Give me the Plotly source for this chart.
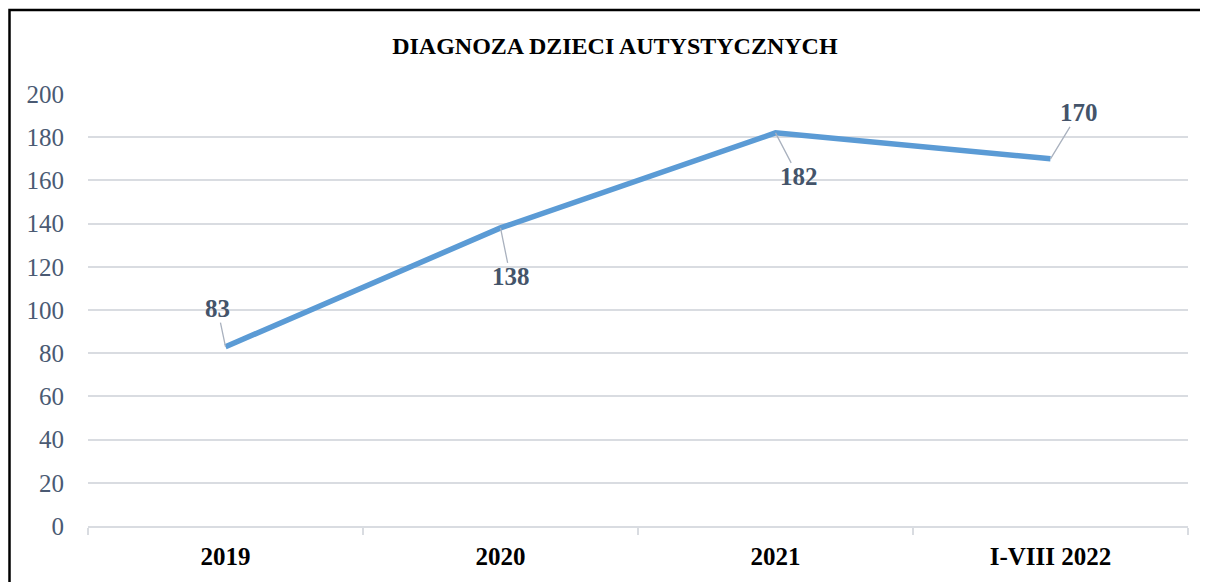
import plotly.graph_objects as go

categories = ["2019", "2020", "2021", "I-VIII 2022"]
values = [83, 138, 182, 170]
y_ticks = [0, 20, 40, 60, 80, 100, 120, 140, 160, 180, 200]
title_text = "DIAGNOZA DZIECI AUTYSTYCZNYCH"
# label offsets (pixels) for callout leader lines
label_dx = [-8, 10, 23, 28]
label_dy = [-38, 49, 44, -46]

FONT = "Liberation Serif"
SLATE = "#44546A"
GRID = "#D9DCE1"

fig = go.Figure()
fig.add_trace(go.Scatter(
    x=categories, y=values, mode="lines",
    line=dict(color="#5B9BD5", width=5.5),
    hoverinfo="skip", showlegend=False,
))

for i, (v, dx, dy) in enumerate(zip(values, label_dx, label_dy)):
    fig.add_annotation(
        x=i, y=v, text=f"<b>{v}</b>", showarrow=True, arrowhead=0,
        arrowwidth=1.3, arrowcolor="#A9B1BE", ax=dx, ay=dy,
        font=dict(family=FONT, size=25, color=SLATE), borderpad=0,
    )

W, H = 1200, 574
L, T, B = 80, 86, 54
PW, PH = 1100, 434

fig.update_layout(
    width=W, height=H,
    margin=dict(l=L, r=W - L - PW, t=T, b=B, pad=0),
    paper_bgcolor="white", plot_bgcolor="white",
    title=dict(text=f"<b>{title_text}</b>", x=0.479, xref="paper",
               y=1 - 38 / H, yref="container", xanchor="center", yanchor="middle",
               font=dict(family=FONT, size=24, color="black")),
    xaxis=dict(
        type="category", range=[-0.5, 3.5], showgrid=False,
        showline=True, linecolor=GRID, linewidth=1.5,
        ticks="outside", tickson="boundaries", ticklen=7, tickcolor=GRID, tickwidth=1.5,
        tickfont=dict(family=FONT, size=25, color="black"),
        tickvals=categories, ticktext=[f"<b>{c}</b>" for c in categories],
        ticklabelstandoff=7,
    ),
    yaxis=dict(
        range=[0, 200], tickvals=y_ticks, showgrid=True, gridcolor=GRID, gridwidth=1.5,
        zeroline=False, showline=False, ticks="",
        tickfont=dict(family=FONT, size=25, color="#4A5A73"),
        ticklabelstandoff=23,
    ),
    shapes=[dict(type="rect", xref="paper", yref="paper",
                 x0=(1.5 - L) / PW, x1=1.2, y0=-0.3, y1=(T + PH - 1.5) / PH,
                 line=dict(color="black", width=2.5), fillcolor="rgba(0,0,0,0)")],
)

fig.write_html("out.html")
